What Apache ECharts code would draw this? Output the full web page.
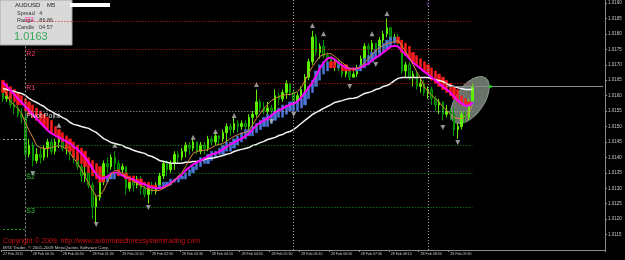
<!DOCTYPE html>
<html><head><meta charset="utf-8">
<script src="https://cdn.jsdelivr.net/npm/echarts@6/dist/echarts.min.js"></script>
<style>html,body{margin:0;padding:0;background:#000;}#c{width:625px;height:260px;}</style>
</head><body><div id="c"></div>
<script>
// ---- tick labels (x axis, one every 8 bars of 5 minutes) ----
const tickLabels = ['27 Feb 2011','28 Feb 00:10','28 Feb 00:50','28 Feb 01:30','28 Feb 02:10','28 Feb 02:50','28 Feb 03:30','28 Feb 04:10','28 Feb 04:50','28 Feb 05:30','28 Feb 06:10','28 Feb 06:50','28 Feb 07:30','28 Feb 08:10','28 Feb 08:50','28 Feb 09:30'];
const slotCount = 162;

// ---- candles (AUDUSD M5) ----
const barOpen = [1.0162,1.0159,1.0160,1.0157,1.0156,1.0154,1.0153,1.0141,1.0144,1.0139,1.0141,1.0140,1.0143,1.0145,1.0142,1.0145,1.0146,1.0143,1.0144,1.0141,1.0140,1.0137,1.0134,1.0135,1.0131,1.0124,1.0127,1.0132,1.0138,1.0137,1.0140,1.0138,1.0136,1.0137,1.0130,1.0132,1.0131,1.0133,1.0130,1.0128,1.0130,1.0129,1.0131,1.0134,1.0138,1.0136,1.0138,1.0141,1.0140,1.0142,1.0144,1.0143,1.0145,1.0142,1.0144,1.0143,1.0146,1.0145,1.0147,1.0146,1.0148,1.0150,1.0149,1.0151,1.0150,1.0151,1.0150,1.0153,1.0154,1.0158,1.0156,1.0155,1.0156,1.0155,1.0160,1.0159,1.0161,1.0164,1.0161,1.0158,1.0160,1.0162,1.0166,1.0171,1.0179,1.0174,1.0176,1.0173,1.0172,1.0170,1.0171,1.0169,1.0167,1.0168,1.0166,1.0167,1.0169,1.0172,1.0176,1.0175,1.0177,1.0174,1.0178,1.0180,1.0182,1.0178,1.0179,1.0177,1.0168,1.0170,1.0166,1.0167,1.0163,1.0164,1.0161,1.0162,1.0159,1.0157,1.0158,1.0154,1.0155,1.0154,1.0149,1.0150,1.0154,1.0153,1.0158];
const barClose = [1.0159,1.0160,1.0157,1.0156,1.0154,1.0153,1.0141,1.0144,1.0139,1.0141,1.0140,1.0143,1.0145,1.0142,1.0145,1.0146,1.0143,1.0144,1.0141,1.0140,1.0137,1.0134,1.0135,1.0131,1.0124,1.0127,1.0132,1.0138,1.0137,1.0140,1.0138,1.0136,1.0137,1.0130,1.0132,1.0131,1.0133,1.0130,1.0128,1.0130,1.0129,1.0131,1.0134,1.0138,1.0136,1.0138,1.0141,1.0140,1.0142,1.0144,1.0143,1.0145,1.0142,1.0144,1.0143,1.0146,1.0145,1.0147,1.0146,1.0148,1.0150,1.0149,1.0151,1.0150,1.0151,1.0150,1.0153,1.0154,1.0158,1.0156,1.0155,1.0156,1.0155,1.0160,1.0159,1.0161,1.0164,1.0161,1.0158,1.0160,1.0162,1.0166,1.0171,1.0179,1.0174,1.0176,1.0173,1.0172,1.0170,1.0171,1.0169,1.0167,1.0168,1.0166,1.0167,1.0169,1.0172,1.0176,1.0175,1.0177,1.0174,1.0178,1.0180,1.0182,1.0178,1.0179,1.0177,1.0168,1.0170,1.0166,1.0167,1.0163,1.0164,1.0161,1.0162,1.0159,1.0157,1.0158,1.0154,1.0155,1.0154,1.0149,1.0150,1.0154,1.0153,1.0158,1.0163];
const barLow = [1.0158,1.0158,1.0156,1.0154,1.0153,1.0151,1.0139,1.0140,1.0137,1.0138,1.0138,1.0139,1.0140,1.0141,1.0141,1.0143,1.0142,1.0141,1.0139,1.0138,1.0136,1.0132,1.0132,1.0130,1.0120,1.0119,1.0126,1.0131,1.0135,1.0136,1.0136,1.0134,1.0134,1.0128,1.0129,1.0129,1.0130,1.0128,1.0127,1.0125,1.0128,1.0128,1.0130,1.0133,1.0134,1.0135,1.0136,1.0138,1.0139,1.0140,1.0141,1.0142,1.0141,1.0141,1.0141,1.0142,1.0144,1.0144,1.0144,1.0145,1.0145,1.0147,1.0148,1.0148,1.0149,1.0149,1.0149,1.0150,1.0153,1.0155,1.0154,1.0154,1.0153,1.0155,1.0157,1.0158,1.0159,1.0160,1.0156,1.0157,1.0159,1.0161,1.0165,1.0170,1.0173,1.0172,1.0172,1.0170,1.0169,1.0168,1.0168,1.0166,1.0166,1.0165,1.0166,1.0166,1.0168,1.0170,1.0173,1.0174,1.0172,1.0173,1.0177,1.0179,1.0177,1.0177,1.0176,1.0167,1.0166,1.0165,1.0163,1.0162,1.0161,1.0160,1.0159,1.0157,1.0155,1.0154,1.0152,1.0153,1.0152,1.0147,1.0146,1.0149,1.0151,1.0152,1.0157];
const barHigh = [1.0163,1.0161,1.0161,1.0158,1.0157,1.0156,1.0156,1.0146,1.0145,1.0143,1.0143,1.0144,1.0146,1.0146,1.0146,1.0148,1.0147,1.0145,1.0145,1.0142,1.0141,1.0138,1.0137,1.0136,1.0132,1.0128,1.0133,1.0139,1.0140,1.0141,1.0142,1.0139,1.0138,1.0137,1.0133,1.0134,1.0134,1.0134,1.0131,1.0131,1.0132,1.0132,1.0135,1.0139,1.0139,1.0139,1.0142,1.0142,1.0143,1.0145,1.0145,1.0146,1.0145,1.0145,1.0145,1.0147,1.0147,1.0148,1.0147,1.0149,1.0151,1.0151,1.0153,1.0152,1.0152,1.0152,1.0154,1.0155,1.0162,1.0159,1.0158,1.0158,1.0157,1.0162,1.0161,1.0162,1.0165,1.0164,1.0162,1.0161,1.0163,1.0167,1.0172,1.0181,1.0180,1.0177,1.0178,1.0174,1.0173,1.0172,1.0172,1.0171,1.0170,1.0169,1.0168,1.0170,1.0173,1.0177,1.0177,1.0178,1.0177,1.0179,1.0181,1.0185,1.0182,1.0180,1.0180,1.0178,1.0171,1.0171,1.0168,1.0168,1.0166,1.0165,1.0163,1.0163,1.0160,1.0159,1.0158,1.0157,1.0156,1.0156,1.0151,1.0155,1.0155,1.0159,1.0164];

// ---- smoothed Heiken Ashi bodies ----
const haOpen = [1.0165,1.0164,1.0163,1.0162,1.0161,1.0160,1.0159,1.0158,1.0157,1.0156,1.0155,1.0154,1.0153,1.0152,1.0150,1.0149,1.0148,1.0147,1.0146,1.0145,1.0144,1.0143,1.0142,1.0140,1.0139,1.0138,1.0137,1.0134,1.0132,1.0133,1.0133,1.0136,1.0135,1.0135,1.0134,1.0134,1.0133,1.0133,1.0132,1.0132,1.0131,1.0131,1.0130,1.0130,1.0131,1.0131,1.0132,1.0132,1.0133,1.0133,1.0134,1.0135,1.0136,1.0137,1.0138,1.0138,1.0139,1.0140,1.0141,1.0141,1.0142,1.0142,1.0143,1.0144,1.0145,1.0146,1.0147,1.0147,1.0148,1.0149,1.0150,1.0150,1.0151,1.0152,1.0153,1.0153,1.0154,1.0155,1.0155,1.0155,1.0156,1.0157,1.0159,1.0161,1.0163,1.0165,1.0167,1.0168,1.0171,1.0171,1.0169,1.0170,1.0170,1.0169,1.0169,1.0168,1.0168,1.0169,1.0170,1.0171,1.0172,1.0173,1.0174,1.0175,1.0176,1.0177,1.0179,1.0178,1.0177,1.0176,1.0174,1.0173,1.0172,1.0171,1.0170,1.0169,1.0168,1.0167,1.0166,1.0165,1.0164,1.0163,1.0162,1.0160,1.0159,1.0158,1.0157];
const haClose = [1.0161,1.0160,1.0159,1.0158,1.0157,1.0157,1.0155,1.0154,1.0153,1.0152,1.0151,1.0150,1.0149,1.0148,1.0147,1.0146,1.0145,1.0143,1.0142,1.0140,1.0139,1.0138,1.0137,1.0135,1.0134,1.0133,1.0132,1.0132,1.0134,1.0135,1.0135,1.0134,1.0134,1.0133,1.0132,1.0132,1.0132,1.0131,1.0131,1.0130,1.0130,1.0130,1.0131,1.0132,1.0132,1.0133,1.0133,1.0134,1.0134,1.0135,1.0136,1.0137,1.0138,1.0140,1.0140,1.0141,1.0142,1.0142,1.0143,1.0144,1.0145,1.0145,1.0146,1.0147,1.0148,1.0149,1.0149,1.0150,1.0151,1.0152,1.0153,1.0154,1.0154,1.0155,1.0156,1.0157,1.0157,1.0158,1.0158,1.0158,1.0159,1.0161,1.0163,1.0165,1.0168,1.0170,1.0171,1.0171,1.0169,1.0169,1.0170,1.0168,1.0168,1.0168,1.0168,1.0169,1.0170,1.0172,1.0173,1.0174,1.0175,1.0176,1.0177,1.0178,1.0179,1.0179,1.0177,1.0174,1.0173,1.0172,1.0171,1.0170,1.0169,1.0168,1.0167,1.0165,1.0164,1.0163,1.0162,1.0161,1.0160,1.0159,1.0158,1.0157,1.0157,1.0157,1.0158];

// ---- moving averages ----
const maMagenta = [1.01643,1.01630,1.01617,1.01604,1.01591,1.01578,1.01565,1.01552,1.01539,1.01526,1.01513,1.01500,1.01487,1.01478,1.01471,1.01465,1.01458,1.01452,1.01445,1.01435,1.01426,1.01413,1.01400,1.01384,1.01364,1.01345,1.01332,1.01332,1.01338,1.01348,1.01351,1.01348,1.01342,1.01335,1.01332,1.01329,1.01322,1.01316,1.01313,1.01306,1.01303,1.01300,1.01300,1.01303,1.01309,1.01316,1.01326,1.01335,1.01345,1.01358,1.01368,1.01377,1.01384,1.01390,1.01397,1.01403,1.01410,1.01413,1.01419,1.01426,1.01435,1.01442,1.01448,1.01455,1.01461,1.01468,1.01478,1.01491,1.01504,1.01513,1.01520,1.01526,1.01536,1.01546,1.01552,1.01559,1.01565,1.01571,1.01575,1.01581,1.01594,1.01610,1.01626,1.01643,1.01665,1.01688,1.01707,1.01720,1.01724,1.01717,1.01707,1.01698,1.01691,1.01688,1.01687,1.01688,1.01691,1.01698,1.01704,1.01714,1.01724,1.01730,1.01740,1.01749,1.01759,1.01762,1.01759,1.01746,1.01733,1.01720,1.01707,1.01698,1.01688,1.01678,1.01669,1.01659,1.01649,1.01639,1.01630,1.01620,1.01610,1.01597,1.01584,1.01575,1.01568,1.01568,1.01578];
const maOrange = [1.01623,1.01604,1.01581,1.01571,1.01559,1.01542,1.01513,1.01487,1.01465,1.01439,1.01432,1.01429,1.01429,1.01432,1.01435,1.01439,1.01435,1.01426,1.01413,1.01397,1.01381,1.01361,1.01338,1.01316,1.01293,1.01274,1.01277,1.01293,1.01319,1.01345,1.01358,1.01355,1.01348,1.01338,1.01332,1.01322,1.01316,1.01309,1.01303,1.01296,1.01293,1.01293,1.01293,1.01300,1.01306,1.01313,1.01326,1.01338,1.01351,1.01371,1.01393,1.01413,1.01419,1.01423,1.01423,1.01426,1.01432,1.01439,1.01442,1.01445,1.01452,1.01461,1.01468,1.01474,1.01478,1.01481,1.01487,1.01507,1.01526,1.01542,1.01559,1.01571,1.01584,1.01591,1.01597,1.01601,1.01604,1.01604,1.01607,1.01614,1.01626,1.01649,1.01672,1.01694,1.01711,1.01727,1.01733,1.01736,1.01736,1.01727,1.01717,1.01707,1.01698,1.01688,1.01686,1.01688,1.01694,1.01707,1.01720,1.01733,1.01746,1.01756,1.01762,1.01769,1.01772,1.01775,1.01779,1.01762,1.01743,1.01724,1.01701,1.01678,1.01656,1.01630,1.01614,1.01601,1.01591,1.01578,1.01565,1.01552,1.01542,1.01529,1.01526,1.01526,1.01533,1.01546,1.01571];
const maWhite = [1.01623,1.01620,1.01617,1.01614,1.01610,1.01607,1.01601,1.01591,1.01584,1.01578,1.01571,1.01565,1.01555,1.01549,1.01542,1.01536,1.01529,1.01523,1.01513,1.01507,1.01504,1.01500,1.01497,1.01494,1.01487,1.01481,1.01471,1.01461,1.01455,1.01448,1.01445,1.01442,1.01439,1.01432,1.01429,1.01423,1.01419,1.01416,1.01413,1.01406,1.01403,1.01397,1.01390,1.01387,1.01384,1.01381,1.01381,1.01381,1.01381,1.01384,1.01384,1.01387,1.01387,1.01390,1.01393,1.01397,1.01397,1.01400,1.01403,1.01406,1.01410,1.01413,1.01419,1.01423,1.01426,1.01429,1.01432,1.01439,1.01442,1.01448,1.01452,1.01458,1.01461,1.01465,1.01471,1.01474,1.01481,1.01484,1.01491,1.01500,1.01510,1.01520,1.01529,1.01539,1.01546,1.01552,1.01559,1.01565,1.01571,1.01578,1.01581,1.01584,1.01588,1.01591,1.01592,1.01594,1.01601,1.01607,1.01610,1.01614,1.01620,1.01623,1.01630,1.01633,1.01639,1.01649,1.01656,1.01659,1.01659,1.01659,1.01659,1.01659,1.01659,1.01659,1.01659,1.01656,1.01652,1.01649,1.01646,1.01639,1.01633,1.01630,1.01626,1.01623,1.01620,1.01620,1.01620];

// ---- fractal arrows [bar index, price] ----
const fractalUp = [[15,1.01504],[30,1.01439],[51,1.01465],[57,1.01484],[62,1.01536],[68,1.01636],[83,1.01827],[86,1.01801],[99,1.01801],[103,1.01866]];
const fractalDown = [[8,1.01348],[25,1.01183],[39,1.01238],[72,1.01516],[78,1.01539],[93,1.01630],[100,1.01701],[118,1.01497],[122,1.01448]];

// ---- pivot levels ----
const pivotNames = ['R3','R2','R1','Pivot Point','S1','S2','S3'];
const pivotValues = [1.0184,1.0175,1.0164,1.0155,1.0144,1.0135,1.0124];
const prevDayValues = [1.01458,1.01167];
const askPrice = 1.0167;
const bidPrice = 1.0163;
const sessionBars = [78,114];

const categories = Array.from({length: slotCount}, (_, j) => 'bar' + j);
const lastBar = barOpen.length - 1;

const pivotColor = n => n[0] === 'R' ? '#d01818' : (n[0] === 'S' ? '#10a010' : '#b8b8b8');
const pivotLabelColor = n => n[0] === 'R' ? '#ff3a70' : (n[0] === 'S' ? '#38c038' : '#d8d8d8');

const markData = [];
pivotNames.forEach((n, k) => {
  markData.push([
    {coord: [6, pivotValues[k]], lineStyle: {color: pivotColor(n), type: [1, 2], width: 1},
     label: {show: n !== 'R3' && n !== 'S1', formatter: n, position: 'insideStartBottom', distance: [1, 1],
             color: pivotLabelColor(n), fontSize: 7, fontFamily: 'Liberation Sans'}},
    {coord: [lastBar, pivotValues[k]]}
  ]);
});
markData.push([{coord: [0, prevDayValues[0]], lineStyle: {color: '#a0a0a0', type: [2, 2]}, label: {show: false}}, {coord: [6, prevDayValues[0]]}]);
markData.push([{coord: [0, prevDayValues[1]], lineStyle: {color: '#10a010', type: [2, 2]}, label: {show: false}}, {coord: [6, prevDayValues[1]]}]);
markData.push([{coord: [6, 1.0176], lineStyle: {color: '#909090', type: [2, 2]}, label: {show: false}}, {coord: [6, 1.0112]}]);
sessionBars.forEach(b => markData.push({xAxis: b, lineStyle: {color: '#a0a0a0', type: [1, 2]}, label: {show: false}}));
markData.push({yAxis: askPrice, lineStyle: {color: '#a01010', type: 'solid', width: 1},
  label: {show: true, position: 'end', distance: 2, formatter: askPrice.toFixed(4), color: '#fff', backgroundColor: '#e00000', fontSize: 5, padding: [1, 1, 0, 1], fontFamily: 'Liberation Sans'}});
markData.push({yAxis: bidPrice, lineStyle: {color: '#30309a', type: 'solid', width: 1},
  label: {show: true, position: 'end', distance: 2, formatter: bidPrice.toFixed(4), color: '#000', backgroundColor: '#ffffff', fontSize: 5, padding: [1, 1, 0, 1], fontFamily: 'Liberation Sans'}});
markData.push([{coord: [119, bidPrice], lineStyle: {color: '#8a8a8a', type: 'solid'}, label: {show: false}}, {coord: [slotCount - 1, bidPrice]}]);

const chart = echarts.init(document.getElementById('c'), null, {renderer: 'canvas'});
chart.setOption({
  backgroundColor: '#000000',
  animation: false,
  textStyle: {fontFamily: 'Liberation Sans'},
  grid: {left: 0, right: 20, top: 0, bottom: 10},
  xAxis: {
    type: 'category', data: categories, boundaryGap: true,
    axisLine: {lineStyle: {color: '#8c8c8c'}},
    axisTick: {show: true, length: 2, lineStyle: {color: '#8c8c8c'}, interval: i => i % 8 === 0 && i / 8 < tickLabels.length},
    axisLabel: {interval: i => i % 8 === 0 && i / 8 < tickLabels.length, formatter: (v, i) => tickLabels[i / 8] || '',
      align: 'left', margin: 2, fontSize: 3.6, color: '#c8c8c8', fontFamily: 'Liberation Sans'},
    splitLine: {show: false}
  },
  yAxis: {
    type: 'value', position: 'right', min: 1.0110, max: 1.0191, interval: 0.0005, scale: true,
    axisLine: {show: true, lineStyle: {color: '#8c8c8c'}},
    axisTick: {show: true, length: 2, lineStyle: {color: '#8c8c8c'}},
    axisLabel: {formatter: v => v.toFixed(4), fontSize: 4.5, color: '#c8c8c8', margin: 3, showMinLabel: false, showMaxLabel: false, fontFamily: 'Liberation Sans'},
    splitLine: {show: false}
  },
  graphic: [
    {type: 'ellipse', z: 1, x: 470, y: 100, rotation: 55 * Math.PI / 180,
     shape: {cx: 0, cy: 0, rx: 27, ry: 14}, style: {fill: 'rgba(125,135,125,0.85)', stroke: 'rgba(170,180,170,0.7)', lineWidth: 1}},
    {type: 'group', z: 100, children: [
      {type: 'rect', shape: {x: 0, y: 0, width: 72, height: 45}, style: {fill: '#d9d9d9', stroke: '#a8a8a8', lineWidth: 1}},
      {type: 'rect', shape: {x: 70, y: 3, width: 40, height: 4}, style: {fill: '#ffffff'}},
      {type: 'text', x: 15, y: 2, style: {text: 'AUDUSD    M5', fontSize: 6, fill: '#222', fontFamily: 'Liberation Sans'}},
      {type: 'text', x: 17, y: 10, style: {text: 'Spread   4', fontSize: 5.5, fill: '#333', fontFamily: 'Liberation Sans'}},
      {type: 'text', x: 17, y: 17, style: {text: 'Range    86.86', fontSize: 5.5, fill: '#333', fontFamily: 'Liberation Sans'}},
      {type: 'text', x: 17, y: 24, style: {text: 'Candle   04:57', fontSize: 5.5, fill: '#333', fontFamily: 'Liberation Sans'}},
      {type: 'text', x: 14, y: 31, style: {text: '1.0163', fontSize: 11, fill: '#3aa85a', fontFamily: 'Liberation Sans'}},
      {type: 'text', x: 25, y: 17, style: {text: 'R3', fontSize: 7, fill: '#ff40a0', fontFamily: 'Liberation Sans'}}
    ]},
    {type: 'text', z: 100, x: 3, y: 238, style: {text: 'Copyright \u00a9 2009, http://www.automatedforexsystemtrading.com', fontSize: 6.9, fill: '#d01010', fontFamily: 'Liberation Sans'}},
    {type: 'text', z: 100, x: 3, y: 245.5, style: {text: 'MT4 Trader, \u00a9 2001-2009 MetaQuotes Software Corp.', fontSize: 4.4, fill: '#c8c8c8', fontFamily: 'Liberation Sans'}}
  ],
  series: [
    {type: 'line', name: 'levels', data: [], z: 1, silent: true,
     markLine: {symbol: ['none', 'none'], silent: true, animation: false, data: markData}},
    {type: 'candlestick', name: 'AUDUSD', z: 2, barWidth: 2,
     data: barOpen.map((o, i) => [o, barClose[i], barLow[i], barHigh[i]]),
     itemStyle: {color: '#5cf000', color0: '#005800', borderColor: '#5cf000', borderColor0: '#009a00', borderWidth: 1}},
    {type: 'candlestick', name: 'HA', z: 3, barWidth: 2.8,
     data: haOpen.map((o, i) => [o, haClose[i], Math.min(o, haClose[i]), Math.max(o, haClose[i])]),
     itemStyle: {color: '#4a78d8', color0: '#ff1c1c', borderColor: '#4a78d8', borderColor0: '#ff1c1c', borderWidth: 0.5}},
    {type: 'line', name: 'MA white', z: 4, data: maWhite, showSymbol: false, symbol: 'none', lineStyle: {color: '#f2f2f2', width: 1.5}},
    {type: 'line', name: 'MA magenta', z: 4, data: maMagenta, showSymbol: false, symbol: 'none', lineStyle: {color: '#ff00ff', width: 2}},
    {type: 'line', name: 'MA orange', z: 4, data: maOrange, showSymbol: false, symbol: 'none', lineStyle: {color: '#d8893a', width: 1}},
    {type: 'scatter', name: 'up', z: 5, data: fractalUp, symbol: 'triangle', symbolSize: [5, 5], itemStyle: {color: '#b8b8b8'}},
    {type: 'scatter', name: 'down', z: 5, data: fractalDown, symbol: 'triangle', symbolRotate: 180, symbolSize: [5, 5], itemStyle: {color: '#b8b8b8'}},
    {type: 'scatter', name: 'bidArrow', z: 5, data: [[131, bidPrice]], symbol: 'triangle', symbolRotate: -90, symbolSize: [4, 5], itemStyle: {color: '#10e010'}},
    {type: 'scatter', name: 'sessionMark', z: 5, data: [[sessionBars[1], 1.01895]], symbolSize: 0,
     label: {show: true, formatter: 'L', position: 'inside', color: '#9a4dff', fontSize: 6}}
  ]
});
</script>
</body></html>
